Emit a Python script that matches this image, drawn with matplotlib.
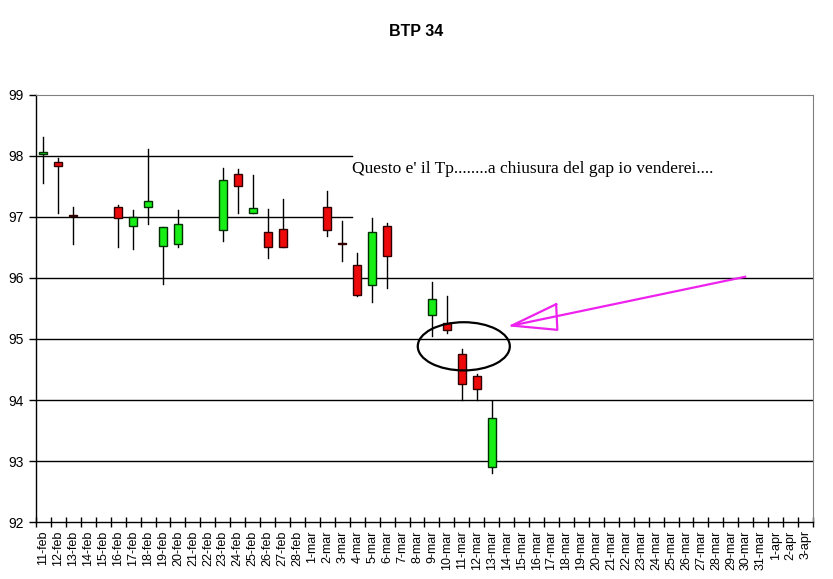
import matplotlib.pyplot as plt
import numpy as np
import pandas as pd
from matplotlib.patches import Ellipse, Rectangle

# calendar days on the x axis
days = pd.date_range("2009-02-11", "2009-04-03")
mesi = {2: "feb", 3: "mar", 4: "apr"}
day_labels = [f"{d.day}-{mesi[d.month]}" for d in days]

# candles
dates = ["11-feb", "12-feb", "13-feb", "16-feb", "17-feb", "18-feb", "19-feb",
         "20-feb", "23-feb", "24-feb", "25-feb", "26-feb", "27-feb", "2-mar",
         "3-mar", "4-mar", "5-mar", "6-mar", "9-mar", "10-mar", "11-mar",
         "12-mar", "13-mar"]
opens = [98.03, 97.90, 97.035, 97.16, 96.85, 97.16, 96.52, 96.55, 96.79, 97.70,
         97.07, 96.75, 96.80, 97.16, 96.58, 96.21, 95.88, 96.85, 95.40, 95.26,
         94.75, 94.40, 92.90]
highs = [98.31, 97.96, 97.16, 97.19, 97.11, 98.11, 96.83, 97.11, 97.80, 97.78,
         97.68, 97.13, 97.30, 97.42, 96.93, 96.41, 96.98, 96.90, 95.94, 95.70,
         94.84, 94.42, 93.99]
lows = [97.56, 97.06, 96.56, 96.50, 96.48, 96.89, 95.90, 96.50, 96.61, 97.07,
        97.07, 96.32, 96.50, 96.69, 96.28, 95.70, 95.61, 95.84, 95.05, 95.10,
        94.00, 94.00, 92.80]
closes = [98.06, 97.83, 97.015, 96.98, 97.00, 97.26, 96.83, 96.88, 97.61, 97.50,
          97.15, 96.50, 96.50, 96.79, 96.55, 95.72, 96.75, 96.36, 95.65, 95.14,
          94.26, 94.18, 93.70]

fig = plt.figure(figsize=(8.33, 5.79), dpi=100)
ax = fig.add_axes([0.0432, 0.0984, 0.9328, 0.7376])

n = len(day_labels)
ax.set_xlim(-0.5, n - 0.5)
ax.set_ylim(92, 99)

# horizontal lines
for v in [93, 94, 95, 96]:
    ax.axhline(v, color="black", linewidth=1.0, zorder=1)
for v in [97, 98]:
    ax.plot([-0.5, 20.65], [v, v], color="black", linewidth=1.0, zorder=1)

w = 0.54
for d, o, h, l, c in zip(dates, opens, highs, lows, closes):
    x = day_labels.index(d)
    ax.plot([x, x], [l, h], color="black", linewidth=1.0, zorder=2)
    col = "#16ee16" if c > o else "#ee0a0a"
    lo = min(o, c)
    ax.add_patch(Rectangle((x - w / 2, lo), w, abs(c - o), facecolor=col,
                           edgecolor="#300000" if c < o else "#003000",
                           linewidth=1.0, zorder=3))

# annotations
ax.text(20.65, 97.72, "Questo e' il Tp........a chiusura del gap io venderei....",
        family="Liberation Serif", fontsize=12.5, va="baseline", ha="left")
ax.add_patch(Ellipse((28.13, 94.88), 6.16, 0.79, fill=False,
                     edgecolor="black", linewidth=1.6, zorder=4))
ax.plot([46.96, 31.34], [96.02, 95.22], color="#ee22ee", linewidth=1.6, zorder=4)
ax.plot([34.31, 31.34, 34.39, 34.31], [95.57, 95.22, 95.15, 95.57],
        color="#ee22ee", linewidth=1.6, zorder=4)

# axes
ax.spines["top"].set_color("#808080")
ax.spines["right"].set_color("#808080")
ax.spines["left"].set_linewidth(1.0)
ax.spines["bottom"].set_linewidth(1.0)

ax.set_yticks(np.arange(92, 100))
ax.set_xticks(np.arange(n + 1) - 0.5)
ax.set_xticklabels([])
ax.set_xticks(np.arange(n), minor=True)
ax.set_xticklabels(day_labels, minor=True, rotation=90,
                   family="Liberation Sans", fontsize=9)
ax.tick_params(axis="x", which="major", direction="inout", length=7, width=1)
ax.tick_params(axis="x", which="minor", length=0, pad=6)
ax.tick_params(axis="y", direction="out", length=5, width=1, pad=4,
               labelsize=10)
for t in ax.get_yticklabels():
    t.set_family("Liberation Sans")

fig.suptitle("BTP 34", x=0.5, y=0.958, fontsize=11.5, fontweight="bold",
             family="Liberation Sans")

fig.savefig("out.png", dpi=100)
